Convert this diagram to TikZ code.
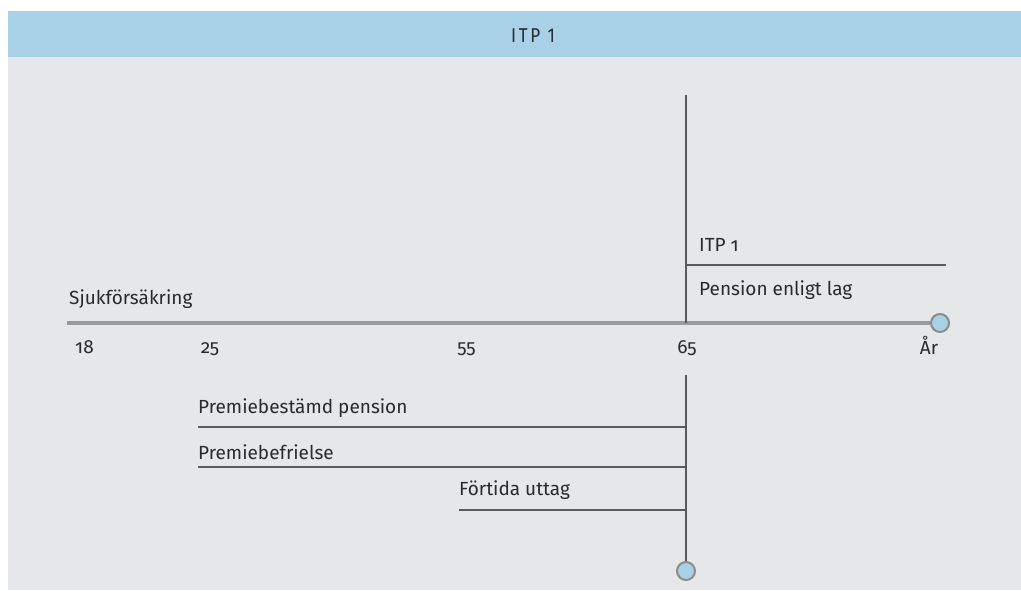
\documentclass[tikz,border=0pt]{standalone}
\usepackage{fontspec}
\setmainfont{Fira Sans}[Numbers=OldStyle]
\newfontfamily\titlefont{Fira Sans}[LetterSpace=14, FakeStretch=0.85]
\definecolor{hdrblue}{HTML}{A8D0E6}
\definecolor{panelgray}{HTML}{E6E7E9}
\definecolor{axisgray}{HTML}{9A9A9A}
\definecolor{linegray}{HTML}{5A5A5A}
\definecolor{textgray}{HTML}{2A2A2A}
\definecolor{circlegray}{HTML}{8C8C8C}
\begin{document}
\begin{tikzpicture}[x=1pt,y=-1pt,
  lbl/.style={font=\fontsize{19}{22}\selectfont, text=textgray, inner sep=0pt},
  thinline/.style={draw=linegray, line width=1.3pt},
  axisline/.style={draw=axisgray, line width=4pt},
  endcircle/.style={circle, fill=hdrblue, draw=circlegray, line width=2pt, minimum size=18pt, inner sep=0pt}]
\useasboundingbox (0,0) rectangle (1021,590);
\fill[white] (0,0) rectangle (1021,590);
\fill[panelgray] (8,11) rectangle (1021,590);
\fill[hdrblue] (8,11) rectangle (1021,57);
\node[font=\titlefont\fontsize{20}{24}\selectfont, text=textgray, inner sep=0pt, anchor=base] (title) at (533,42) {ITP 1};
% axis
\coordinate (axL) at (67,323);
\node[endcircle] (axR) at (940,323) {};
\draw[axisline] (axL) -- (axR.west);
% vertical line at 65
\coordinate (vtop) at (686,95);
\coordinate (vax) at (686,323);
\coordinate (vbot) at (686,375);
\node[endcircle] (vend) at (686,571) {};
\draw[thinline] (vtop) -- (vax);
\draw[thinline] (vbot) -- (vend.north);
% upper right line
\coordinate (itpR) at (946,265);
\draw[thinline] (686,265) coordinate (itpL) -- (itpR);
\node[lbl, anchor=base west] (itp) at (699,251) {ITP 1};
\node[lbl, anchor=base west] (lag) at (699,295) {Pension enligt lag};
\node[lbl, anchor=base west] (sjuk) at (69,304) {Sjukförsäkring};
% ticks labels
\node[lbl, anchor=base] (n18) at (84.5,353) {18};
\node[lbl, anchor=base] (n25) at (210,353) {25};
\node[lbl, anchor=base] (n55) at (466.5,353) {55};
\node[lbl, anchor=base] (n65) at (687,353) {65};
\node[lbl, anchor=base] (nar) at (929,354) {År};
% lower lines
\coordinate (pbL) at (198,427);
\coordinate (pfL) at (198,467);
\coordinate (ftL) at (459,510);
\draw[thinline] (pbL) -- (686,427);
\draw[thinline] (pfL) -- (686,467);
\draw[thinline] (ftL) -- (686,510);
\node[lbl, anchor=base west] (pb) at (198,413) {Premiebestämd pension};
\node[lbl, anchor=base west] (pf) at (198,459) {Premiebefrielse};
\node[lbl, anchor=base west] (ft) at (459,495) {Förtida uttag};
\end{tikzpicture}
\end{document}
